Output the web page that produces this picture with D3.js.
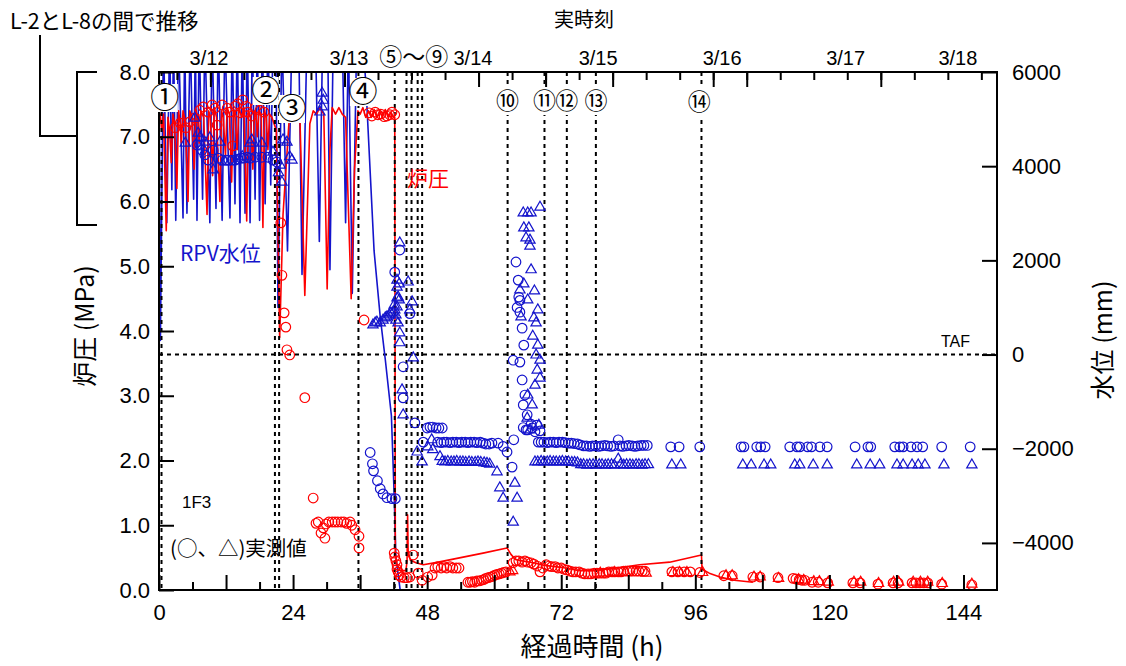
<!DOCTYPE html>
<html><head><meta charset="utf-8">
<script src="https://cdn.jsdelivr.net/npm/d3@7"></script>
<style>body{margin:0;background:#fff}svg{display:block}</style>
</head><body>
<svg id="chart" width="1126" height="666"></svg>
<script>
// ---------------- DATA ----------------
// Reactor pressure line (h, MPa)
const redLine = [[0,7.3],[0.2,7.35],[0.5,7.1],[0.8,7.35],[1.3,5.55],[1.6,7.3],[1.9,7.1],[2.2,6.6],[2.5,7.35],[2.8,7.2],[3.2,6.2],[3.5,7.4],[3.8,7.2],[4.0,6.9],[4.3,7.4],[4.7,7.25],[5.2,6.0],[5.5,7.4],[5.9,7.3],[6.3,6.5],[6.6,7.42],[6.9,7.3],[7.2,6.9],[7.5,7.4],[8.0,7.3],[8.6,5.8],[8.9,7.4],[9.2,7.3],[9.6,6.4],[9.9,7.45],[10.3,7.3],[10.9,6.0],[11.2,7.4],[11.5,7.3],[11.9,6.7],[12.2,7.45],[12.6,7.35],[13.0,6.3],[13.3,7.4],[13.6,7.3],[14.0,6.8],[14.3,7.45],[14.8,7.3],[15.2,7.45],[15.7,5.7],[16.0,7.4],[16.4,7.3],[16.8,6.5],[17.1,7.4],[17.4,7.3],[17.6,7.0],[17.9,7.4],[18.3,7.35],[18.6,5.6],[18.9,7.4],[19.2,7.3],[19.5,6.8],[19.8,7.35],[20.2,7.3],[20.6,7.2],[21.0,7.1],[21.6,3.9],[22.2,5.8],[23.4,7.4],[24.0,7.3],[24.6,7.45],[25.2,7.35],[26.1,4.55],[27.0,7.2],[27.6,7.4],[28.2,7.35],[28.8,7.45],[29.5,7.35],[30.1,4.65],[30.6,6.8],[31.0,7.45],[31.6,7.35],[32.2,7.45],[32.8,7.35],[33.4,7.3],[34.4,4.5],[35.0,6.5],[35.6,7.4],[36.0,7.35],[36.5,7.45],[37.0,7.3],[37.5,7.4],[38.0,7.3],[38.5,7.42],[39.0,7.3],[39.5,7.4],[40.0,7.3],[40.5,7.42],[41.0,7.3],[41.5,7.38],[42.0,7.3],[42.2,7.3],[42.3,0.55],[42.6,0.4],[43.2,0.3],[44.2,0.3],[44.4,0.45],[44.5,1.16],[44.6,0.6],[45.0,0.46],[46.0,0.42],[47.3,0.39],[50,0.43],[54,0.5],[58,0.57],[62.3,0.65],[63.0,0.55],[63.8,0.47],[65,0.45],[67,0.42],[69,0.38],[72,0.35],[75,0.3],[78,0.3],[82,0.34],[86,0.39],[91.4,0.43],[97.1,0.54],[97.2,0.32],[98.5,0.26],[100.4,0.2],[103,0.15],[106.3,0.12]];

// RPV water level line (h, mm)
const blueLine = [[0,6800],[0.25,300],[0.8,6800],[1.4,2800],[1.9,6800],[2.3,3500],[2.6,6800],[3.0,2850],[3.5,6800],[4.3,2900],[4.6,6800],[5.0,3000],[5.6,6800],[6.2,3300],[6.5,6800],[6.8,2850],[7.2,6800],[7.8,3300],[8.2,6800],[9.1,2800],[9.5,6800],[10.2,3100],[10.6,6800],[11.3,2850],[11.8,6800],[12.7,2900],[13.1,6800],[13.6,3200],[14.0,6800],[14.5,2800],[14.9,6800],[15.4,3000],[15.8,6800],[16.3,2800],[16.7,6800],[17.2,3300],[17.6,6800],[18.0,2850],[18.5,6800],[19.0,3200],[19.5,6800],[20.0,3600],[20.4,6800],[20.9,6800],[21.3,1000],[22.0,6800],[23.0,2200],[23.8,6800],[25.0,6800],[25.6,1700],[26.5,6800],[28.0,6800],[28.7,2400],[29.3,6800],[30.2,6800],[30.6,1800],[31.2,6800],[32.8,6800],[33.4,2800],[33.9,6800],[34.6,1300],[35.4,6800],[36.4,6800],[37.0,5800],[38.5,2200],[39.6,800],[40.5,-100],[41.6,-1300],[42.1,-3000],[42.4,-4300],[43.5,-5300]];

// Measured pressure, circles (h, MPa)
const redCircles = [[2.9,7.14],[3.8,7.21],[4.8,7.14],[5.5,7.23],[6.4,7.29],[7.3,7.41],[7.9,7.46],[8.8,7.38],[9.5,7.49],[10.0,7.44],[10.4,7.18],[11.3,7.49],[12.2,7.44],[12.7,7.38],[13.2,6.86],[13.6,7.47],[14.1,7.51],[14.5,7.37],[15.0,7.57],[15.6,7.47],[15.9,7.38],[16.6,7.32],[17.2,7.44],[18.1,7.41],[18.8,7.38],
[21.8,5.67],[22.0,4.86],[22.4,4.28],[22.7,4.06],[22.9,3.71],[23.4,3.63],[26.1,2.97],[27.6,1.42],[28.1,1.03],[28.5,1.05],[29.0,0.88],[29.4,0.96],[29.7,0.80],[29.9,1.02],[30.4,1.05],[31.0,1.05],[31.5,1.05],[32.0,1.05],[32.6,1.05],[33.1,1.05],[33.6,1.03],[34.2,1.05],[34.5,1.0],[35.1,0.93],[35.8,0.83],[35.8,0.65],[36.7,4.17],
[37.6,7.37],[38.1,7.32],[38.7,7.38],[39.2,7.34],[39.7,7.35],[40.3,7.31],[40.8,7.32],[41.3,7.34],[41.7,7.38],[42.2,7.34],
[42.1,0.57],[42.2,0.51],[42.4,0.45],[42.6,0.39],[42.6,0.32],[42.8,0.28],[43.0,0.23],[43.3,0.2],[43.9,0.19],[44.4,0.19],[44.9,0.2],[45.5,0.54],[46.4,0.26],[47.1,0.15],[48.1,0.2],[48.9,0.23],[49.4,0.34],[49.9,0.36],[50.5,0.34],[51.0,0.36],[51.5,0.34],[52.1,0.36],[52.6,0.34],[53.2,0.34],[53.7,0.34],
[55.3,0.12],[55.7,0.12],[56.1,0.13],[56.5,0.12],[56.9,0.14],[57.3,0.14],[57.7,0.15],[58.1,0.16],[58.5,0.18],[58.9,0.19],[59.3,0.2],[59.7,0.21],[60.1,0.23],[60.5,0.24],[60.9,0.25],[61.3,0.26],[61.7,0.27],[62.1,0.28],
[63.4,0.42],[63.9,0.45],[64.4,0.45],[65.0,0.43],[65.5,0.45],[66.0,0.43],[66.6,0.42],[67.1,0.40],[67.7,0.37],[68.2,0.28],[68.7,0.34],[69.3,0.39],[69.8,0.37],[70.3,0.36],[70.9,0.36],[71.4,0.34],[72.0,0.34],[72.5,0.32],[73.0,0.31],[73.6,0.29],[74.1,0.28],[74.6,0.28],[75.2,0.28],[75.7,0.26],[76.2,0.25],[76.8,0.25],[77.3,0.25],[77.9,0.26],[78.4,0.26],[78.9,0.26],[79.5,0.26],[80.0,0.26],[80.5,0.28],[81.1,0.28],[81.6,0.28],[82.2,0.28],[82.7,0.28],[83.2,0.29],[83.8,0.29],[84.3,0.29],[84.8,0.29],[85.4,0.29],[85.9,0.29],[86.5,0.29],[87.0,0.29],
[91.8,0.28],[92.9,0.28],[94.0,0.28],[95.1,0.28],[96.8,0.27],[101.1,0.22],[102.6,0.22],[106.3,0.2],[107.6,0.2],[110.8,0.19],[113.5,0.18],[114.0,0.17],[114.6,0.16],[115.1,0.15],[115.6,0.15],[116.9,0.12],[118.0,0.12],[119.7,0.11],[124.2,0.11],[125.5,0.11],[128.7,0.09],[131.4,0.11],[132.3,0.11],[134.8,0.11],[135.5,0.11],[136.2,0.11],[136.9,0.11],[137.6,0.11],[140.1,0.09],[145.5,0.08]];

// Measured pressure, triangles (h, MPa)
const redTriangles = [[62.8,0.28],[63.3,0.3],[79.0,0.26],[81.5,0.27],[83.5,0.27],[85.5,0.27],[87.2,0.26],[92.0,0.27],[93.2,0.27],[94.5,0.27],[97.3,0.27],[101.5,0.22],[102.6,0.22],[106.5,0.2],[107.6,0.2],[110.9,0.18],[114.5,0.16],[115.4,0.15],[117.2,0.13],[118.2,0.13],[119.8,0.12],[124.4,0.12],[125.6,0.12],[128.8,0.1],[131.5,0.12],[132.4,0.12],[135.0,0.12],[136.3,0.12],[137.6,0.12],[140.2,0.1],[145.5,0.09]];

// Measured water level, circles (h, mm)
const blueCircles = [[6.8,4450],[7.3,4450],[7.7,4340],[8.2,4240],[8.8,4130],[9.7,4340],[10.6,4170],[11.3,4130],[12.0,4130],[12.5,4130],[13.1,4130],[13.6,4130],[14.1,4150],[14.7,4170],[15.2,4170],[15.8,4190],[16.3,4170],[17.2,4190],[18.4,4190],[19.5,4190],[20.4,4130],[21.1,4090],
[37.8,-2080],[38.2,-2320],[38.4,-2470],[39.1,-2680],[39.6,-2850],[40.1,-2960],[40.8,-3040],[41.7,-3060],[42.3,-3060],
[43.1,2220],[42.2,1750],[44.9,870],[43.7,-260],[43.7,-920],[45.8,-1450],[47.3,-1860],
[48.0,-1560],[48.5,-1540],[49.0,-1540],[49.6,-1560],[50.1,-1560],[50.7,-1560],
[49.9,-1860],[50.5,-1870],[51.0,-1860],[51.5,-1860],[52.1,-1870],[52.6,-1860],[53.2,-1860],[53.7,-1870],[54.2,-1860],[54.8,-1860],[55.3,-1870],[55.8,-1860],[56.4,-1860],[56.9,-1870],[57.5,-1860],[58.0,-1880],[58.5,-1900],[59.1,-1900],[59.6,-1880],[60.7,-1880],[61.6,-1950],[62.3,-2070],[63.2,-2390],[63.5,-1810],
[63.9,1965],[64.3,1580],[64.4,1220],[64.6,900],[65.0,560],[65.3,200],[63.4,-120],[64.6,-160],[65.0,-540],[65.5,-860],[65.2,-1070],[65.9,-1280],[66.6,-1480],[65.7,-1600],[67.3,-1640],[64.1,1000],[64.6,1150],[65.2,-1550],[66.0,-1600],[66.8,-1560],[67.6,-1500],[68.2,-1620],
[67.9,-1860],[68.4,-1860],[68.9,-1860],[69.5,-1870],[70.0,-1860],[70.6,-1860],[71.1,-1870],[71.6,-1860],[72.2,-1860],[72.7,-1870],[73.3,-1880],[73.8,-1880],[74.3,-1890],[74.9,-1900],[75.4,-1920],[76.0,-1940],[76.5,-1940],[77.1,-1950],[77.6,-1940],[78.1,-1940],[78.7,-1950],[79.2,-1940],[79.8,-1930],[80.3,-1940],[80.9,-1950],[81.4,-1940],[82.2,-1810],[82.5,-1940],[83.0,-1950],[83.6,-1940],[84.1,-1930],[84.7,-1940],[85.2,-1950],[85.7,-1940],[86.3,-1930],[86.8,-1930],[87.4,-1930],
[91.6,-1960],[93.1,-1960],[96.8,-1960],[104.2,-1960],[104.7,-1960],[107.0,-1960],[107.7,-1960],[108.5,-1960],[112.9,-1960],[114.2,-1960],[114.7,-1960],[116.1,-1960],[116.8,-1960],[118.3,-1960],[119.6,-1960],[124.6,-1960],[126.9,-1960],[127.4,-1960],[131.7,-1960],[132.6,-1960],[133.2,-1960],[134.6,-1960],[135.7,-1960],[136.7,-1960],[140.1,-1960],[145.2,-1960]];

// Measured water level, triangles (h, mm)
const blueTriangles = [[4.7,4490],[6.4,5020],[7.0,4700],[7.3,4600],[8.2,4510],[9.1,4600],[9.7,3920],[10.9,4510],[11.8,4090],[14.9,4200],[16.3,4490],[16.6,4560],[18.4,4490],[20.4,4300],[21.7,4020],[22.0,3660],[22.2,4560],[22.9,4510],[23.4,4200],[23.8,4130],[21.4,3860],
[28.8,5150],[29.2,5260],[29.4,5400],[29.2,5550],
[38.3,630],[38.7,670],[39.0,690],[39.6,670],[40.1,730],[40.5,780],[40.8,800],[41.2,840],[41.5,880],[41.9,900],[42.1,1050],[42.2,950],[42.4,840],[42.4,730],[42.6,1010],[42.8,1220],[42.6,1430],[42.8,670],[43.0,1160],[43.1,460],[43.1,250],[43.5,-750],[43.7,-1280],[44.9,950],[45.5,-70],[46.2,-2070],[47.1,-2280],
[43.1,2370],[42.6,1580],[44.6,1540],[43.0,1500],[42.6,1200],[45.3,1120],
[48.1,-1960],[48.8,-1810],[49.0,-2020],[50.3,-2170],
[50.7,-2270],[51.2,-2280],[51.7,-2270],[52.3,-2280],[52.8,-2280],[53.3,-2270],[53.9,-2280],[54.4,-2280],[54.9,-2290],[55.5,-2280],[56.0,-2290],[56.6,-2290],[57.1,-2280],[57.6,-2290],[58.2,-2300],[58.7,-2310],[59.2,-2330],
[60.5,-2490],[61.0,-2830],[61.6,-3050],[63.7,-2730],[64.1,-3050],[63.4,-3560],
[65.2,3006],[66.0,3006],[66.6,3006],[68.2,3130],[65.3,2690],[66.2,2690],[65.7,2475],[66.4,2430],[66.4,2300],[64.6,1370],[66.0,1160],[67.1,780],[67.5,670],[66.9,390],[67.8,200],[67.5,-10],[68.2,-120],[67.7,-330],[68.2,-500],[67.3,-650],[66.0,-860],[66.8,-1070],[65.9,-1350],[68.0,-1500],[66.4,-1600],[65.3,1500],[64.8,800],[66.6,1800],[67.2,1350],[67.8,950],
[67.3,-2280],[67.8,-2280],[68.4,-2270],[68.9,-2280],[69.5,-2280],[70.0,-2270],[70.6,-2280],[71.1,-2280],[71.7,-2280],[72.2,-2270],[72.8,-2280],[73.3,-2280],[73.9,-2290],[74.4,-2290],[74.9,-2300],[75.5,-2340],[76.0,-2340],[76.6,-2350],[77.1,-2340],[77.7,-2340],[78.2,-2350],[78.8,-2340],[79.3,-2340],[79.9,-2350],[80.4,-2340],[81.0,-2340],[81.5,-2350],[82.2,-2220],[82.6,-2340],[83.2,-2350],[83.7,-2340],[84.3,-2340],[84.8,-2350],[85.4,-2340],[85.9,-2340],[86.5,-2350],[87.0,-2340],[87.6,-2340],
[91.8,-2345],[93.4,-2345],[104.5,-2345],[106.0,-2345],[108.3,-2345],[109.5,-2345],[113.8,-2345],[114.7,-2345],[117.1,-2345],[119.6,-2345],[124.9,-2345],[127.3,-2345],[129.0,-2345],[132.1,-2345],[133.2,-2345],[134.8,-2345],[135.9,-2345],[137.1,-2345],[140.5,-2345],[145.5,-2345]];

// Events (h)
const eventHours = [0.45, 20.75, 21.5, 35.7, 42.2, 44.3, 45.2, 46.3, 47.1, 62.4, 69.0, 73.0, 78.2, 97.1];
const eventLabels = ['①','②','③','④','⑩','⑪','⑫','⑬','⑭'];
const eventLabelHours = [1.05, 19.1, 23.8, 36.5, 62.4, 69.0, 73.0, 78.2, 96.7];

// Axis ticks / labels
const bottomLabelTicks = [0,24,48,72,96,120,144];
const bottomMajorTicks = [0,12,24,36,48,60,72,84,96,108,120,132,144];
const bottomMinorTicks = [6,18,30,42,54,66,78,90,102,114,126,138];
const topTickHours = [3.2,9.2,15.2,21.2,27.2,33.2,39.2,45.2,51.2,57.2,63.2,69.2,75.2,81.2,87.2,93.2,99.2,105.2,111.2,117.2,123.2,129.2,135.2,141.2,147.2];
const topLongTickHours = [9.2,33.2,57.2,69.2,81.2,99.2,105.2,129.2];
const topLabels = ['3/12','3/13','⑤～⑨','3/14','3/15','3/16','3/17','3/18'];
const topLabelHours = [8.95, 34.0, 45.6, 56.2, 78.6, 100.8, 122.9, 143.0];
const pressureTicks = [0,1,2,3,4,5,6,7,8];
const levelTicks = [-4000,-2000,0,2000,4000,6000];

// ---------------- DRAW ----------------
const L=159, R=997, T=72, B=590;
const x = d3.scaleLinear().domain([0,150]).range([L,R]);
const yP = d3.scaleLinear().domain([0,8]).range([B,T]);
const yW = d3.scaleLinear().domain([-5000,6000]).range([B,T]);
const RED='#ff0000', BLUE='#1414cc';
const JP='"Noto Sans CJK JP","Noto Sans",sans-serif';
const NUM='"Liberation Sans",Arial,sans-serif';

const svg = d3.select('#chart');
svg.append('defs').append('clipPath').attr('id','clip')
  .append('rect').attr('x',L).attr('y',T).attr('width',R-L).attr('height',B-T);
const plot = svg.append('g').attr('clip-path','url(#clip)');

// TAF line
plot.append('line').attr('x1',x(0)).attr('x2',x(150)).attr('y1',yW(0)).attr('y2',yW(0))
  .attr('stroke','#000').attr('stroke-width',2).attr('stroke-dasharray','4,4');

// lines
plot.append('path').datum(blueLine)
  .attr('d', d3.line().x(d=>x(d[0])).y(d=>yW(d[1])))
  .attr('fill','none').attr('stroke',BLUE).attr('stroke-width',1.6).attr('stroke-linejoin','round');
plot.append('path').datum(redLine)
  .attr('d', d3.line().x(d=>x(d[0])).y(d=>yP(d[1])))
  .attr('fill','none').attr('stroke',RED).attr('stroke-width',1.6).attr('stroke-linejoin','round');

// event dotted lines
plot.selectAll('.ev').data(eventHours).join('line').attr('class','ev')
  .attr('x1',d=>x(d)).attr('x2',d=>x(d)).attr('y1',T).attr('y2',B)
  .attr('stroke','#000').attr('stroke-width',2).attr('stroke-dasharray','4,4');

// markers
const tri = d3.symbol().type(d3.symbolTriangle).size(46);
plot.selectAll('.rc').data(redCircles).join('circle').attr('class','rc')
  .attr('cx',d=>x(d[0])).attr('cy',d=>yP(d[1])).attr('r',4.8)
  .attr('fill','none').attr('stroke',RED).attr('stroke-width',1.2);
plot.selectAll('.rt').data(redTriangles).join('path').attr('class','rt')
  .attr('transform',d=>`translate(${x(d[0])},${yP(d[1])})`).attr('d',tri)
  .attr('fill','none').attr('stroke',RED).attr('stroke-width',1.2);
plot.selectAll('.bc').data(blueCircles).join('circle').attr('class','bc')
  .attr('cx',d=>x(d[0])).attr('cy',d=>yW(d[1])).attr('r',4.8)
  .attr('fill','none').attr('stroke',BLUE).attr('stroke-width',1.2);
plot.selectAll('.bt').data(blueTriangles).join('path').attr('class','bt')
  .attr('transform',d=>`translate(${x(d[0])},${yW(d[1])})`).attr('d',tri)
  .attr('fill','none').attr('stroke',BLUE).attr('stroke-width',1.2);

// axes
function styleAxis(g){
  g.select('.domain').remove();
  g.selectAll('.tick line').attr('stroke','#000').attr('stroke-width',2);
  g.selectAll('.tick text').attr('font-family',NUM).attr('font-size',22).attr('fill','#000');
}
svg.append('g').attr('transform',`translate(0,${B})`)
  .call(d3.axisBottom(x).tickValues(bottomMinorTicks).tickSize(-8).tickFormat(''))
  .call(styleAxis);
svg.append('g').attr('transform',`translate(0,${B})`)
  .call(d3.axisBottom(x).tickValues(bottomMajorTicks).tickSize(-15).tickPadding(14)
     .tickFormat(d=>bottomLabelTicks.includes(d)?d:''))
  .call(styleAxis);
svg.append('g').attr('transform',`translate(0,${T})`)
  .call(d3.axisTop(x).tickValues(topTickHours).tickSize(-8).tickFormat(''))
  .call(styleAxis);
svg.append('g').attr('transform',`translate(0,${T})`)
  .call(d3.axisTop(x).tickValues(topLongTickHours).tickSize(-15).tickFormat(''))
  .call(styleAxis);
svg.append('g').attr('transform',`translate(${L},0)`)
  .call(d3.axisLeft(yP).tickValues(pressureTicks).tickSize(-15).tickPadding(9).tickFormat(d3.format('.1f')))
  .call(styleAxis);
svg.append('g').attr('transform',`translate(${R},0)`)
  .call(d3.axisRight(yW).tickValues(levelTicks).tickSize(-15).tickPadding(15).tickFormat(d3.format('d')))
  .call(styleAxis);

// frame
svg.append('rect').attr('x',L).attr('y',T).attr('width',R-L).attr('height',B-T)
  .attr('fill','none').attr('stroke','#000').attr('stroke-width',2);

// top labels
svg.selectAll('.tl').data(topLabels).join('text').attr('class','tl')
  .attr('x',(d,i)=>x(topLabelHours[i])).attr('y',65).attr('text-anchor','middle')
  .attr('font-family',(d)=>d.startsWith('3/')?NUM:JP)
  .attr('font-size',d=>d.startsWith('3/')?20:23).text(d=>d);

// event circled labels
const evY = [98,91,109,92,101,101,101,101,102];
const evSize = [29,29,29,29,23,23,23,23,23];
const evW = [26,26,26,26,21,21,21,21,21];
const evG = svg.selectAll('.el').data(eventLabels).join('g').attr('class','el')
  .attr('transform',(d,i)=>`translate(${x(eventLabelHours[i])},${evY[i]})`);
evG.append('rect').attr('x',(d,i)=>-evW[i]/2).attr('y',-14).attr('width',(d,i)=>evW[i]).attr('height',28).attr('fill','#fff');
evG.append('text').attr('text-anchor','middle').attr('dy','0.36em')
  .attr('font-family',JP).attr('font-size',(d,i)=>evSize[i]).text(d=>d);

// annotations
function txt(s,xp,yp,size,color,anchor,fam){
  return svg.append('text').attr('x',xp).attr('y',yp).attr('font-size',size)
    .attr('fill',color||'#000').attr('text-anchor',anchor||'start')
    .attr('font-family',fam||JP).text(s);
}
txt('L-2とL-8の間で推移',10,29,21.5);
txt('実時刻',584,27,20,'#000','middle');
txt('RPV水位',180,261,21,BLUE);
txt('炉圧',407,186,21,RED);
txt('1F3',182,508,17,'#000','start',NUM);
txt('(○、△)実測値',170,556,20.5);
txt('TAF',941,347,16,'#000','start',NUM);
txt('経過時間 (h)',592,656,26,'#000','middle');
svg.append('text').attr('transform','translate(94,326) rotate(-90)').attr('text-anchor','middle')
  .attr('font-family',JP).attr('font-size',25).text('炉圧 (MPa)');
svg.append('text').attr('transform','translate(1112,340) rotate(-90)').attr('text-anchor','middle')
  .attr('font-family',JP).attr('font-size',25).text('水位 (mm)');

// bracket
svg.append('path').attr('d','M40,35V136H77M97,72H77V225H97')
  .attr('fill','none').attr('stroke','#000').attr('stroke-width',2);
</script>
</body></html>
